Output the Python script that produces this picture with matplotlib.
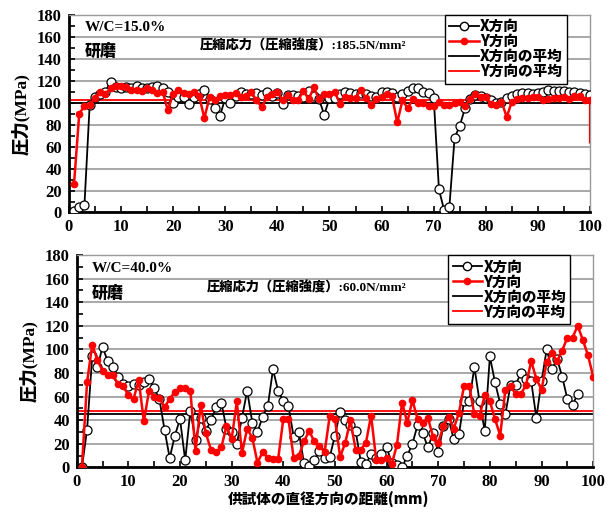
import matplotlib.pyplot as plt
from matplotlib.ticker import MultipleLocator
from matplotlib.lines import Line2D

plt.rcParams['font.family'] = ['Liberation Serif', 'Noto Sans CJK JP']
plt.rcParams['font.weight'] = 'bold'

# --- W/C = 15.0% ---
top_x_vals = [1, 5, 7, 98, 105, 108, 110, 119, 114, 113, 114, 113, 115, 113, 113, 114, 115, 113, 110, 100,
              105, 105, 99, 105, 108, 112, 103, 95, 88, 104, 100, 106, 110, 108, 108, 109, 107, 110, 106, 109,
              99, 107, 107, 106, 105, 111, 106, 103, 89, 104, 104, 108, 110, 109, 108, 109, 108, 106, 105, 110,
              110, 109, 105, 108, 111, 113, 113, 110, 109, 104, 21, 2, 5, 68, 79, 95, 103, 107, 106, 104,
              102, 100, 101, 104, 106, 108, 109, 109, 108, 109, 110, 112, 111, 111, 111, 110, 110, 109, 108, 107]
top_y_vals = [26, 90, 97, 98, 104, 110, 108, 113, 115, 115, 114, 112, 112, 111, 113, 112, 109, 110, 93, 108,
              112, 109, 108, 110, 106, 86, 105, 102, 106, 107, 107, 109, 105, 106, 110, 102, 96, 105, 108, 110,
              102, 107, 102, 102, 111, 103, 114, 103, 108, 108, 110, 99, 105, 104, 104, 112, 104, 98, 103, 105,
              108, 106, 82, 102, 95, 103, 100, 100, 97, 97, 101, 98, 98, 100, 101, 97, 103, 108, 105, 105,
              99, 98, 101, 87, 101, 103, 104, 104, 105, 105, 102, 103, 104, 104, 105, 103, 106, 106, 102, 102]
top_y_tail = 64          # the Y line drops at the right edge
top_x_mean = 99.5
top_y_mean = 102.5

# --- W/C = 40.0% ---
bot_x_vals = [0, 32, 94, 85, 102, 90, 85, 77, 71, 69, 71, 70, 72, 75, 67, 58, 32, 8, 27, 41,
              6, 48, 23, 42, 31, 40, 51, 55, 33, 30, 20, 42, 65, 38, 30, 43, 52, 83, 65, 56,
              52, 26, 30, 4, 1, 6, 14, 8, 9, 27, 47, 40, 36, 31, 5, 3, 11, 8, 11, 17,
              4, 2, 0, 10, 20, 36, 29, 17, 29, 13, 35, 41, 24, 28, 56, 56, 85, 56, 31, 94,
              72, 54, 45, 70, 70, 80, 75, 73, 42, 73, 100, 83, 92, 77, 58, 53, 62]
bot_y_vals = [0, 72, 104, 91, 82, 78, 78, 71, 69, 61, 58, 74, 39, 65, 60, 59, 51, 58, 64, 67,
              67, 65, 14, 53, 29, 15, 13, 17, 35, 24, 56, 12, 33, 25, 4, 13, 8, 7, 7, 41,
              41, 8, 10, 22, 31, 22, 18, 13, 44, 41, 9, 21, 40, 15, 15, 21, 44, 6, 6, 8,
              3, 19, 55, 38, 57, 41, 38, 42, 26, 21, 35, 43, 33, 46, 69, 69, 45, 44, 61, 56,
              41, 27, 66, 69, 62, 62, 70, 90, 75, 66, 89, 97, 90, 99, 110, 110, 120, 108, 95, 77]
bot_x_mean = 45.0
bot_y_mean = 47.7

wc_labels = ['W/C=15.0%', 'W/C=40.0%']
strength_labels = ['圧縮応力（圧縮強度）:185.5N/mm²', '圧縮応力（圧縮強度）:60.0N/mm²']
legend_labels = ['X方向', 'Y方向', 'X方向の平均', 'Y方向の平均']

fig = plt.figure(figsize=(6.09, 5.12), dpi=100)
ax1 = fig.add_axes([0.113, 0.585, 0.856, 0.386])
ax2 = fig.add_axes([0.126, 0.087, 0.848, 0.415])

cjk = ['Noto Sans CJK JP']
mix = ['Liberation Serif', 'Noto Sans CJK JP']


def draw(ax, xv, yv, xm, ym, wc, strength, ytail=None):
    xs = list(range(1, len(xv) + 1))
    ax.plot(xs, xv, color='black', lw=1.3, marker='o', ms=6.5,
            mfc='white', mec='black', mew=0.9, zorder=3)
    ys = list(range(1, len(yv) + 1))
    yy = list(yv)
    if ytail is not None:
        ys.append(len(yv))
        yy.append(ytail)
    ax.plot(ys, yy, color='#ff0000', lw=1.8, marker='o', ms=4.5,
            mfc='#ff0000', mec='#ff0000', markevery=slice(0, len(yv)), zorder=4)
    ax.axhline(xm, color='black', lw=1.3, zorder=2)
    ax.axhline(ym, color='#ff0000', lw=1.3, zorder=2)

    ax.set_xlim(0, 100)
    ax.set_ylim(0, 180)
    ax.xaxis.set_major_locator(MultipleLocator(10))
    ax.xaxis.set_minor_locator(MultipleLocator(5))
    ax.yaxis.set_major_locator(MultipleLocator(20))
    ax.yaxis.set_minor_locator(MultipleLocator(10))
    ax.tick_params(which='both', direction='in', length=4, width=1.2)
    ax.tick_params(axis='both', labelsize=12, pad=5)
    for lab in ax.get_xticklabels() + ax.get_yticklabels():
        lab.set_fontweight('bold')
        lab.set_family('Liberation Serif')
    ax.grid(axis='y', which='major', color='#999999', lw=1.2, zorder=1)
    ax.set_axisbelow(True)
    for s in ['left', 'bottom']:
        ax.spines[s].set_linewidth(2)
        ax.spines[s].set_color('black')
    for s in ['top', 'right']:
        ax.spines[s].set_linewidth(1)
        ax.spines[s].set_color('#999999')

    ax.set_ylabel('圧力(MPa)', family=mix, fontsize=12.5, fontweight='black', labelpad=5)

    ax.text(0.03, 0.935, wc, transform=ax.transAxes, family='Liberation Serif',
            fontsize=11, fontweight='bold', va='center')
    ax.text(0.03, 0.82, '研磨', transform=ax.transAxes, family=cjk,
            fontsize=11.5, fontweight='black', va='center')
    ax.text(0.252, 0.845, strength, transform=ax.transAxes, family=mix,
            fontsize=9.5, fontweight='black', va='center')

    handles = [
        Line2D([], [], color='black', lw=1.3, marker='o', ms=6, mfc='white', mec='black'),
        Line2D([], [], color='#ff0000', lw=1.8, marker='o', ms=4.5, mfc='#ff0000', mec='#ff0000'),
        Line2D([], [], color='black', lw=1.3),
        Line2D([], [], color='#ff0000', lw=1.3),
    ]
    leg = ax.legend(handles, legend_labels, loc='upper right', bbox_to_anchor=(0.956, 1.0),
                    borderaxespad=0, fancybox=False, edgecolor='black', framealpha=1,
                    prop={'family': cjk, 'weight': 'black', 'size': 10.5},
                    handlelength=2.0, handletextpad=0.1, labelspacing=0.0,
                    borderpad=0.3)
    leg.get_frame().set_linewidth(1)


draw(ax1, top_x_vals, top_y_vals, top_x_mean, top_y_mean, wc_labels[0], strength_labels[0], top_y_tail)
draw(ax2, bot_x_vals, bot_y_vals, bot_x_mean, bot_y_mean, wc_labels[1], strength_labels[1])

fig.text(0.54, 0.024, '供試体の直径方向の距離(mm)', family=cjk, fontsize=10.5,
         fontweight='black', ha='center', va='center')

fig.savefig('out.png', dpi=100)
